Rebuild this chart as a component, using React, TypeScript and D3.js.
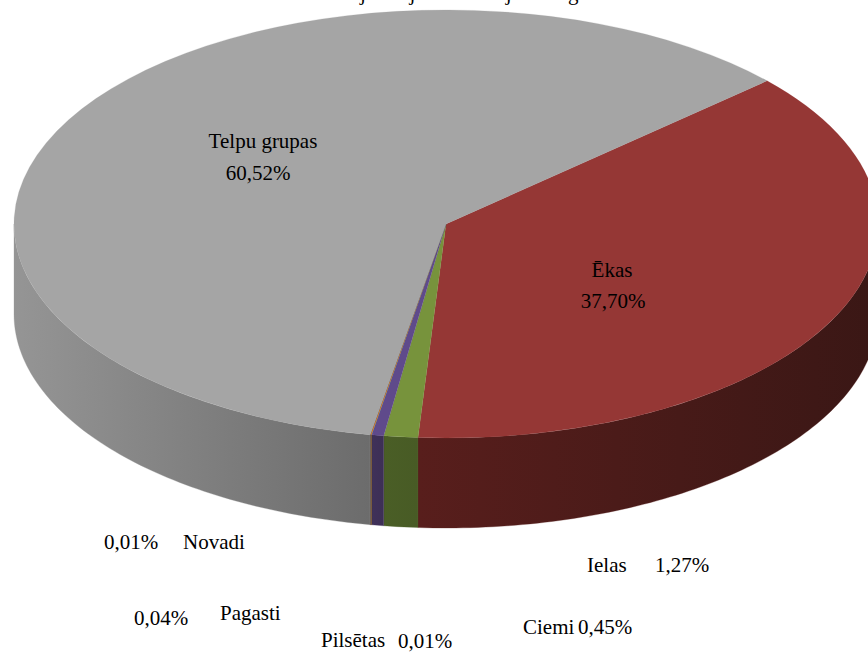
import * as d3 from "d3";
import { useEffect, useRef } from "react";

// slice order follows the chart, clockwise from the Ēkas slice
const categories = ["Ēkas", "Ielas", "Ciemi", "Pilsētas", "Pagasti", "Novadi", "Telpu grupas"];
const shares = [37.7, 1.27, 0.45, 0.01, 0.04, 0.01, 60.52];
const topColors = ["#953735", "#77933C", "#5F4A8B", "#31859C", "#E46C0A", "#376092", "#A5A5A5"];
const sideColors = [
  ["#581E1C", "#3A1715"],
  ["#4A5E26", "#485B25"],
  ["#403159", "#3D2F56"],
  ["#1F5563", "#1F5563"],
  ["#A04C07", "#A04C07"],
  ["#243F60", "#243F60"],
  ["#959595", "#6C6C6C"],
];
const title = "Adresācijas objektu sadalījums reģistrā";

// where Excel put each label: [nameX, nameY, valueX, valueY, anchor]
const labelSpots: Record<string, [number, number, number, number, string]> = {
  "Telpu grupas": [263, 148, 258, 180, "middle"],
  "Ēkas": [612, 277, 613, 308, "middle"],
  "Ielas": [587, 572, 655, 572, "start"],
  "Ciemi": [523, 634, 578, 634, "start"],
  "Pilsētas": [321, 647, 398, 648, "start"],
  "Pagasti": [220, 620, 134, 625, "start"],
  "Novadi": [183, 549, 104, 549, "start"],
};

export default function App() {
  const svgRef = useRef(null);

  useEffect(() => {
    const w = 868;
    const h = 652;
    const cx = 446;
    const cy = 224;
    const rx = 432;
    const ry = 214;
    const depth = 90;
    const font = '"Liberation Serif", "Times New Roman", serif';

    const svg = d3.select(svgRef.current).attr("width", w).attr("height", h);
    svg.selectAll("*").remove();

    const data = categories.map((c, i) => ({ name: c, value: shares[i], i }));
    const start = (48 * Math.PI) / 180;
    const pie = d3
      .pie<any>()
      .sort(null)
      .value((d) => d.value)
      .startAngle(start)
      .endAngle(start + 2 * Math.PI);
    const arcs = pie(data);

    const defs = svg.append("defs");
    arcs.forEach((a) => {
      const g = defs
        .append("linearGradient")
        .attr("id", "side" + a.data.i)
        .attr("x1", 0)
        .attr("x2", 1)
        .attr("y1", 0)
        .attr("y2", 0);
      g.append("stop").attr("offset", 0).attr("stop-color", sideColors[a.data.i][0]);
      g.append("stop").attr("offset", 1).attr("stop-color", sideColors[a.data.i][1]);
    });

    const px = (a: number) => cx + rx * Math.sin(a);
    const py = (a: number) => cy - ry * Math.cos(a);
    const line = d3.line<[number, number]>();

    // front walls
    const sides = svg.append("g");
    arcs.forEach((a) => {
      const s = Math.max(a.startAngle, Math.PI / 2);
      const e = Math.min(a.endAngle, (3 * Math.PI) / 2);
      if (s >= e) return;
      const n = Math.max(2, Math.ceil(((e - s) * 180) / Math.PI));
      const steps = d3.range(n + 1).map((k) => s + ((e - s) * k) / n);
      const top = steps.map((t) => [px(t), py(t)] as [number, number]);
      const bottom = steps
        .slice()
        .reverse()
        .map((t) => [px(t), py(t) + depth] as [number, number]);
      sides
        .append("path")
        .attr("d", line([...top, ...bottom]) + "Z")
        .attr("fill", `url(#side${a.data.i})`)
        .attr("stroke", sideColors[a.data.i][0])
        .attr("stroke-width", 0.3);
    });

    // top faces
    const arc = d3.arc<any>().innerRadius(0).outerRadius(rx);
    svg
      .append("g")
      .attr("transform", `translate(${cx},${cy}) scale(1,${ry / rx})`)
      .selectAll("path")
      .data(arcs)
      .enter()
      .append("path")
      .attr("d", arc)
      .attr("fill", (d) => topColors[d.data.i])
      .attr("stroke", (d) => topColors[d.data.i])
      .attr("stroke-width", 0.3);

    const fmt = (v: number) => d3.format(".2f")(v).replace(".", ",") + "%";

    const labels = svg
      .append("g")
      .style("font-family", font)
      .style("font-size", "21px")
      .attr("fill", "#000");
    data.forEach((d) => {
      const [nx, ny, vx, vy, anchor] = labelSpots[d.name];
      labels.append("text").attr("x", nx).attr("y", ny).attr("text-anchor", anchor).text(d.name);
      labels.append("text").attr("x", vx).attr("y", vy).attr("text-anchor", anchor).text(fmt(d.value));
    });

    // title sits above the visible area, only its descenders show
    svg
      .append("text")
      .attr("x", 450)
      .attr("y", 0)
      .attr("text-anchor", "middle")
      .style("font-family", font)
      .style("font-size", "21px")
      .text(title);
  }, []);

  return <svg ref={svgRef} style={{ position: "absolute", left: 0, top: 0 }}></svg>;
}
